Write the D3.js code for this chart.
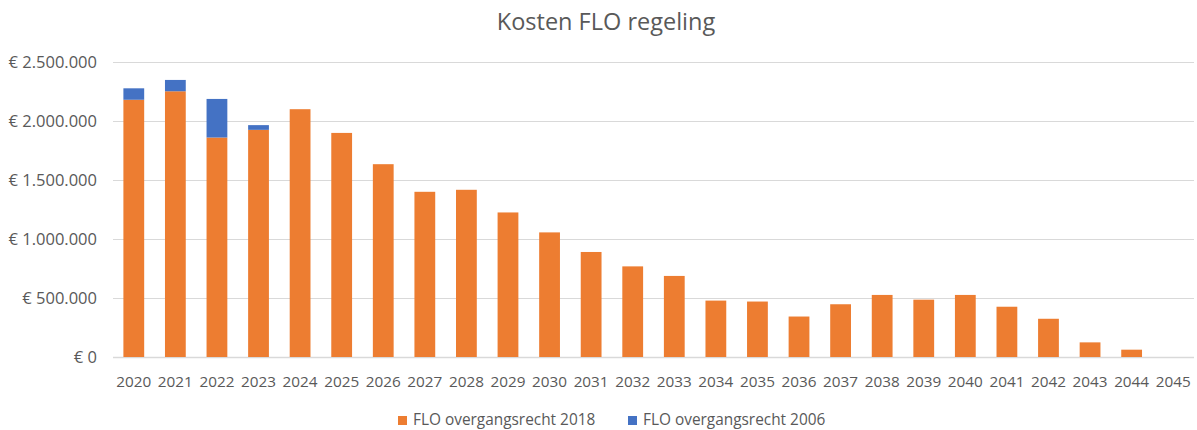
<!DOCTYPE html>
<html>
<head>
<meta charset="utf-8">
<script src="https://cdn.jsdelivr.net/npm/d3@7"></script>
<style>
  body { margin: 0; background: #fff; }
  text { font-family: "Open Sans", "Noto Sans", sans-serif; fill: #595959; }
</style>
</head>
<body>
<script>
// years on the x axis
var years = ["2020","2021","2022","2023","2024","2025","2026","2027","2028","2029","2030","2031","2032",
             "2033","2034","2035","2036","2037","2038","2039","2040","2041","2042","2043","2044","2045"];

// FLO overgangsrecht 2018 (orange, bottom)
var recht2018 = [2180000, 2252000, 1860000, 1925000, 2100000, 1899000, 1634000, 1400000, 1417000, 1225000,
                 1056000, 890000, 768000, 687000, 478000, 470000, 343000, 447000, 526000, 486000,
                 526000, 426000, 324000, 124000, 62000, 0];

// FLO overgangsrecht 2006 (blue, stacked on top)
var recht2006 = [97000, 96000, 327000, 40000, 0, 0, 0, 0, 0, 0,
                 0, 0, 0, 0, 0, 0, 0, 0, 0, 0,
                 0, 0, 0, 0, 0, 0];

var yTicks = [0, 500000, 1000000, 1500000, 2000000, 2500000];
var seriesNames = ["FLO overgangsrecht 2018", "FLO overgangsrecht 2006"];
var colors = ["#ED7D31", "#4472C4"];

var width = 1197, height = 430;
var margin = {top: 62, right: 3, bottom: 73, left: 113};

var svg = d3.select("body").append("svg")
    .attr("width", width)
    .attr("height", height);

var x = d3.scaleBand()
    .domain(years)
    .range([margin.left, width - margin.right])
    .paddingInner(0.5)
    .paddingOuter(0.25);

var y = d3.scaleLinear()
    .domain([0, 2500000])
    .range([height - margin.bottom, margin.top]);

// euro format with dots as thousands separators
var nl = d3.formatLocale({decimal: ",", thousands: ".", grouping: [3], currency: ["€ ", ""]});
var fmt = nl.format("$,.0f");

// gridlines
svg.append("g")
    .selectAll("line")
    .data(yTicks)
    .enter().append("line")
    .attr("x1", margin.left)
    .attr("x2", width - margin.right)
    .attr("y1", function(d) { return Math.round(y(d)) + 0.5; })
    .attr("y2", function(d) { return Math.round(y(d)) + 0.5; })
    .attr("stroke", "#D9D9D9")
    .attr("stroke-width", function(d) { return d === 0 ? 1.5 : 1; });

// y labels
svg.append("g")
    .selectAll("text")
    .data(yTicks)
    .enter().append("text")
    .attr("x", 97)
    .attr("y", function(d) { return y(d); })
    .attr("dy", "0.35em")
    .attr("text-anchor", "end")
    .style("font-size", "16.5px")
    .text(function(d) { return fmt(d); });

// stacked bars
var table = years.map(function(yr, i) {
  return {year: yr, a: recht2018[i], b: recht2006[i]};
});
var stacked = d3.stack().keys(["a", "b"])(table);

svg.append("g")
    .selectAll("g")
    .data(stacked)
    .enter().append("g")
    .attr("fill", function(d, i) { return colors[i]; })
    .selectAll("rect")
    .data(function(d) { return d; })
    .enter().append("rect")
    .attr("x", function(d) { return x(d.data.year); })
    .attr("width", x.bandwidth())
    .attr("y", function(d) { return y(d[1]); })
    .attr("height", function(d) { return y(d[0]) - y(d[1]); });

// x labels
svg.append("g")
    .selectAll("text")
    .data(years)
    .enter().append("text")
    .attr("x", function(d) { return x(d) + x.bandwidth() / 2; })
    .attr("y", 382)
    .attr("dy", "0.35em")
    .attr("text-anchor", "middle")
    .style("font-size", "15.3px")
    .text(function(d) { return d; });

// title
svg.append("text")
    .attr("x", 606)
    .attr("y", 22)
    .attr("dy", "0.35em")
    .attr("text-anchor", "middle")
    .style("font-size", "23.5px")
    .text("Kosten FLO regeling");

// legend
var legendX = [398, 628];
var legend = svg.append("g")
    .selectAll("g")
    .data(seriesNames)
    .enter().append("g")
    .attr("transform", function(d, i) { return "translate(" + legendX[i] + ",420)"; });
legend.append("rect")
    .attr("x", 0)
    .attr("y", -4)
    .attr("width", 9)
    .attr("height", 9)
    .attr("fill", function(d, i) { return colors[i]; });
legend.append("text")
    .attr("x", 15)
    .attr("y", 0)
    .attr("dy", "0.35em")
    .style("font-size", "15.4px")
    .text(function(d) { return d; });
</script>
</body>
</html>
